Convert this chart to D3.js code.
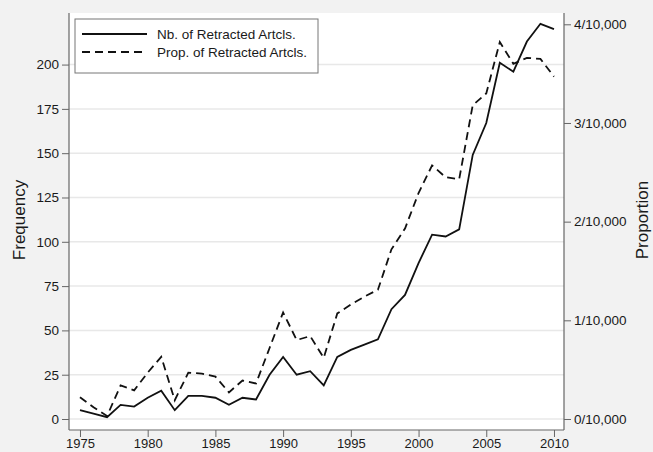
<!DOCTYPE html>
<html>
<head>
<meta charset="utf-8">
<script src="https://cdn.jsdelivr.net/npm/d3@7"></script>
<style>
  html, body { margin: 0; padding: 0; background: #f2f2f2; }
  svg { display: block; font-family: "Liberation Sans", Arial, sans-serif; }
</style>
</head>
<body>
<svg id="chart" width="653" height="452"></svg>
<script>
const years = [1975,1976,1977,1978,1979,1980,1981,1982,1983,1984,1985,1986,1987,1988,1989,1990,1991,1992,1993,1994,1995,1996,1997,1998,1999,2000,2001,2002,2003,2004,2005,2006,2007,2008,2009,2010];
const counts = [5,3,1,8,7,12,16,5,13,13,12,8,12,11,25,35,25,27,19,35,39,42,45,62,70,88,104,103,107,149,167,201,196,213,223,220];
const proportions = [0.22,0.12,0.03,0.34,0.29,0.47,0.63,0.19,0.47,0.46,0.43,0.27,0.39,0.36,0.72,1.08,0.80,0.84,0.62,1.07,1.16,1.24,1.31,1.72,1.93,2.29,2.57,2.45,2.43,3.18,3.30,3.82,3.60,3.66,3.65,3.47];
const xTicks = [1975,1980,1985,1990,1995,2000,2005,2010];
const leftTicks = [0,25,50,75,100,125,150,175,200];
const rightTicks = [0,1,2,3,4];
const seriesNames = ["Nb. of Retracted Artcls.", "Prop. of Retracted Artcls."];
const leftTitle = "Frequency";
const rightTitle = "Proportion";

const svg = d3.select("#chart");
const L = 69, R = 564, T = 13, B = 430;

const x = d3.scaleLinear().domain([1974.19, 2010.74]).range([L, R]);
const yL = d3.scaleLinear().domain([-6.2, 229.1]).range([B, T]);
const yR = d3.scaleLinear().domain([-0.1115, 4.1146]).range([B, T]);

// plot area
svg.append("rect").attr("x", L).attr("y", T).attr("width", R - L).attr("height", B - T).attr("fill", "#ffffff");

// gridlines
svg.append("g").selectAll("line").data(leftTicks).join("line")
  .attr("x1", L).attr("x2", R)
  .attr("y1", d => yL(d)).attr("y2", d => yL(d))
  .attr("stroke", "#e8e8e8").attr("stroke-width", 1.5);

const axisColor = "#666";
const textColor = "#1a1a1a";

function styleAxis(size) {
  return g => {
    g.select(".domain").remove();
    g.selectAll(".tick line").attr("stroke", axisColor);
    g.selectAll(".tick text").attr("fill", textColor).style("font-size", size);
  };
}

// left axis
svg.append("g").attr("transform", `translate(${L},0)`)
  .call(d3.axisLeft(yL).tickValues(leftTicks).tickSize(7).tickPadding(3))
  .call(styleAxis("13.5px"));
// right axis
svg.append("g").attr("transform", `translate(${R},0)`)
  .call(d3.axisRight(yR).tickValues(rightTicks).tickSize(7).tickPadding(3).tickFormat(d => d + "/10,000"))
  .call(styleAxis("13.5px"));
// bottom axis
svg.append("g").attr("transform", `translate(0,${B})`)
  .call(d3.axisBottom(x).tickValues(xTicks).tickSize(7).tickPadding(2).tickFormat(d3.format("d")))
  .call(styleAxis("13px"));

// axis lines
svg.append("line").attr("x1", L).attr("x2", L).attr("y1", T).attr("y2", B).attr("stroke", axisColor).attr("stroke-width", 1.2);
svg.append("line").attr("x1", R).attr("x2", R).attr("y1", T).attr("y2", B).attr("stroke", axisColor).attr("stroke-width", 1.2);
svg.append("line").attr("x1", L).attr("x2", R).attr("y1", B).attr("y2", B).attr("stroke", axisColor).attr("stroke-width", 1.2);

// axis titles
svg.append("text").attr("transform", `translate(25,220) rotate(-90)`)
  .attr("text-anchor", "middle").style("font-size", "17px").attr("fill", textColor).text(leftTitle);
svg.append("text").attr("transform", `translate(648,220) rotate(-90)`)
  .attr("text-anchor", "middle").style("font-size", "17px").attr("fill", textColor).text(rightTitle);

// lines
const lineCount = d3.line().x((d, i) => x(years[i])).y(d => yL(d));
const lineProp = d3.line().x((d, i) => x(years[i])).y(d => yR(d));

svg.append("path").datum(counts).attr("d", lineCount)
  .attr("fill", "none").attr("stroke", "#111").attr("stroke-width", 1.8).attr("stroke-linejoin", "miter");
svg.append("path").datum(proportions).attr("d", lineProp)
  .attr("fill", "none").attr("stroke", "#111").attr("stroke-width", 1.8).attr("stroke-dasharray", "8,5");

// legend
const lg = svg.append("g");
lg.append("rect").attr("x", 75).attr("y", 19).attr("width", 243).attr("height", 54)
  .attr("fill", "#fff").attr("stroke", "#777").attr("stroke-width", 1);
const legendY = [34, 52];
const dashes = [null, "8,5"];
seriesNames.forEach((name, i) => {
  lg.append("line").attr("x1", 82).attr("x2", 147).attr("y1", legendY[i]).attr("y2", legendY[i])
    .attr("stroke", "#111").attr("stroke-width", 1.8).attr("stroke-dasharray", dashes[i]);
  lg.append("text").attr("x", 157).attr("y", legendY[i]).attr("dy", "0.35em")
    .style("font-size", "13.5px").attr("fill", textColor).text(name);
});
</script>
</body>
</html>
